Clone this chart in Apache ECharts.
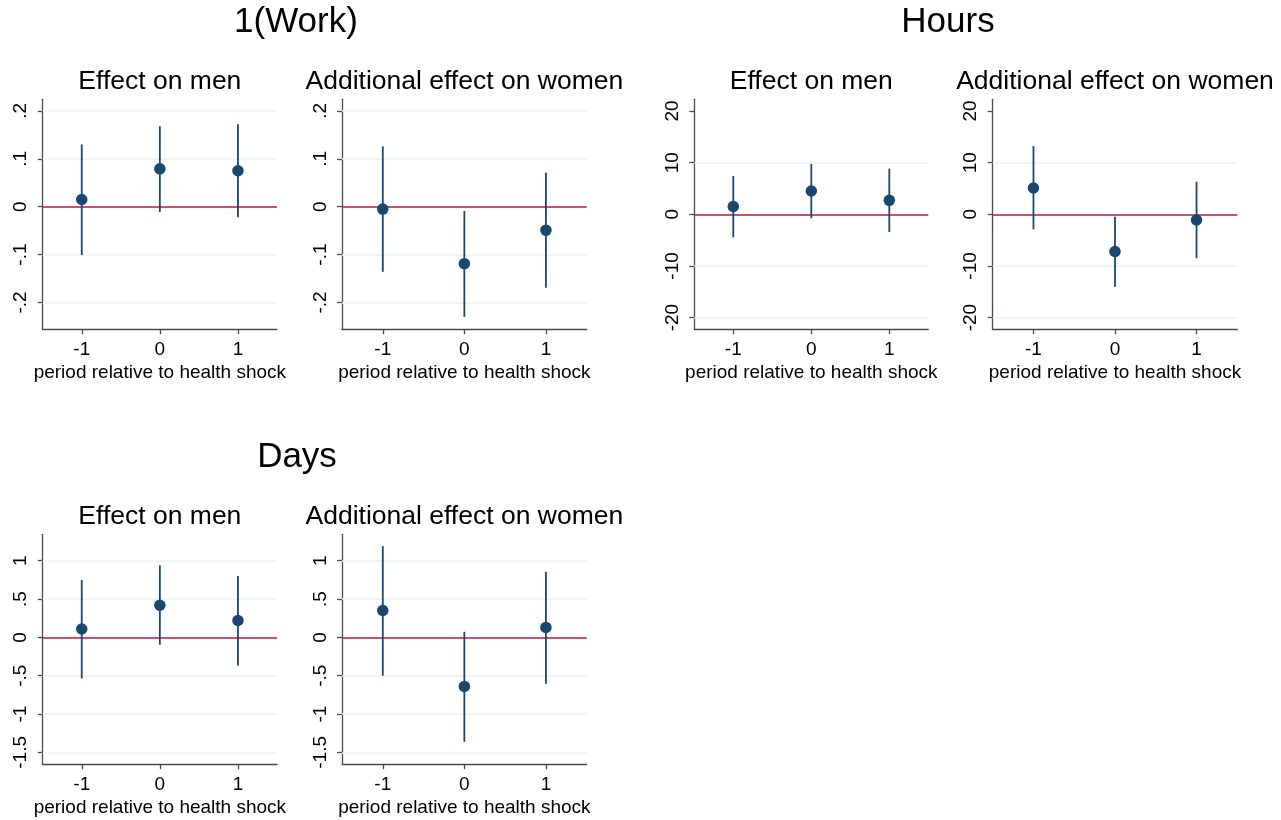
<!DOCTYPE html>
<html>
<head>
<meta charset="utf-8">
<script src="https://cdn.jsdelivr.net/npm/echarts@6/dist/echarts.min.js"></script>
<style>
html,body{margin:0;padding:0;background:#fff;}
#chart{width:1281px;height:820px;}
</style>
</head>
<body>
<div id="chart"></div>
<script>
// ---- data ----
const periods = [-1, 0, 1];
const xTickLabels = ['-1', '0', '1'];
const xAxisTitle = 'period relative to health shock';

const workMenCoef = [0.015, 0.079, 0.075];
const workMenLo   = [-0.101, -0.011, -0.022];
const workMenHi   = [0.130, 0.168, 0.172];
const workWomenCoef = [-0.005, -0.119, -0.049];
const workWomenLo   = [-0.136, -0.230, -0.169];
const workWomenHi   = [0.126, -0.009, 0.071];

const hoursMenCoef = [1.5, 4.5, 2.7];
const hoursMenLo   = [-4.45, -0.77, -3.42];
const hoursMenHi   = [7.41, 9.74, 8.83];
const hoursWomenCoef = [5.1, -7.2, -1.1];
const hoursWomenLo   = [-2.9, -14.0, -8.5];
const hoursWomenHi   = [13.2, -0.46, 6.3];

const daysMenCoef = [0.11, 0.42, 0.22];
const daysMenLo   = [-0.535, -0.096, -0.37];
const daysMenHi   = [0.747, 0.939, 0.80];
const daysWomenCoef = [0.35, -0.64, 0.13];
const daysWomenLo   = [-0.50, -1.362, -0.605];
const daysWomenHi   = [1.19, 0.073, 0.856];

const workTicks = [-0.2, -0.1, 0, 0.1, 0.2];
const workTickLabels = ['-.2', '-.1', '0', '.1', '.2'];
const workGrid = [-0.2, -0.1, 0.1, 0.2];
const hoursTicks = [-20, -10, 0, 10, 20];
const hoursTickLabels = ['-20', '-10', '0', '10', '20'];
const hoursGrid = [-20, -10, 10];
const daysTicks = [-1.5, -1, -0.5, 0, 0.5, 1];
const daysTickLabels = ['-1.5', '-1', '-.5', '0', '.5', '1'];
const daysGrid = [-1.5, -1, -0.5, 0.5, 1];

const workRange = [-0.256, 0.2242];
const hoursRange = [-22.26, 22.26];
const daysRange = [-1.656, 1.345];

const mainTitles = ['1(Work)', 'Hours', 'Days'];
const subTitles = ['Effect on men', 'Additional effect on women'];

// ---- layout ----
const FONT = '"Liberation Sans", Arial, Helvetica, sans-serif';
const NAVY = '#1a476f';
const RED = '#c8103e';
const GRIDC = '#eaf2f3';
const AXISC = '#4a4a4a';

const panels = [
  {coef: workMenCoef, lo: workMenLo, hi: workMenHi, ticks: workTicks, labels: workTickLabels, grid: workGrid, range: workRange, rect: [42.7, 277, 99.3, 329.3], sub: 0},
  {coef: workWomenCoef, lo: workWomenLo, hi: workWomenHi, ticks: workTicks, labels: workTickLabels, grid: workGrid, range: workRange, rect: [342, 586.7, 99.3, 329.3], sub: 1},
  {coef: hoursMenCoef, lo: hoursMenLo, hi: hoursMenHi, ticks: hoursTicks, labels: hoursTickLabels, grid: hoursGrid, range: hoursRange, rect: [694.3, 928.3, 99.3, 329.3], sub: 0},
  {coef: hoursWomenCoef, lo: hoursWomenLo, hi: hoursWomenHi, ticks: hoursTicks, labels: hoursTickLabels, grid: hoursGrid, range: hoursRange, rect: [992.7, 1237.3, 99.3, 329.3], sub: 1},
  {coef: daysMenCoef, lo: daysMenLo, hi: daysMenHi, ticks: daysTicks, labels: daysTickLabels, grid: daysGrid, range: daysRange, rect: [42.7, 277, 534.3, 764.3], sub: 0},
  {coef: daysWomenCoef, lo: daysWomenLo, hi: daysWomenHi, ticks: daysTicks, labels: daysTickLabels, grid: daysGrid, range: daysRange, rect: [342, 586.7, 534.3, 764.3], sub: 1}
];

const W = 1281, H = 820;
const grids = [], xAxes = [], yAxes = [], series = [], graphics = [];

panels.forEach((p, i) => {
  const [l, r, t, b] = p.rect;
  grids.push({left: l, top: t, width: r - l, height: b - t, containLabel: false});
  xAxes.push({
    type: 'value', gridIndex: i, min: -1.5, max: 1.5,
    axisLine: {show: true, onZero: false, lineStyle: {color: AXISC, width: 1.3}},
    axisTick: {show: true, length: 5, customValues: periods, lineStyle: {color: AXISC, width: 1.3}},
    axisLabel: {show: true, customValues: periods, margin: 11, color: '#000', fontFamily: FONT, fontSize: 19,
      formatter: v => xTickLabels[periods.indexOf(v)]},
    splitLine: {show: false},
    name: xAxisTitle, nameLocation: 'middle', nameGap: 34,
    nameTextStyle: {color: '#000', fontFamily: FONT, fontSize: 19}
  });
  yAxes.push({
    type: 'value', gridIndex: i, min: p.range[0], max: p.range[1],
    axisLine: {show: true, onZero: false, lineStyle: {color: AXISC, width: 1.3}},
    axisTick: {show: true, length: 5, customValues: p.ticks, lineStyle: {color: AXISC, width: 1.3}},
    axisLabel: {show: true, customValues: p.ticks, rotate: 90, margin: 12, color: '#000', fontFamily: FONT, fontSize: 19,
      formatter: v => { const k = p.ticks.findIndex(tv => Math.abs(tv - v) < 1e-9); return k >= 0 ? p.labels[k] : ''; }},
    splitLine: {show: false}
  });
  // gridlines
  series.push({
    type: 'line', xAxisIndex: i, yAxisIndex: i, data: [], silent: true, z: 1,
    markLine: {
      z: 1, silent: true, symbol: ['none', 'none'], label: {show: false}, animation: false,
      lineStyle: {color: GRIDC, width: 1.5, type: 'solid'},
      data: p.grid.map(v => ({yAxis: v}))
    }
  });
  // zero reference line
  series.push({
    type: 'line', xAxisIndex: i, yAxisIndex: i, data: [], silent: true, z: 2,
    markLine: {
      z: 2, silent: true, symbol: ['none', 'none'], label: {show: false}, animation: false,
      lineStyle: {color: RED, width: 1.6, type: 'solid'},
      data: [{yAxis: 0}]
    }
  });
  // confidence intervals
  series.push({
    type: 'custom', xAxisIndex: i, yAxisIndex: i, z: 3, silent: true,
    data: periods.map((x, k) => [x, p.lo[k], p.hi[k]]),
    encode: {x: 0, y: [1, 2]},
    renderItem: (params, api) => {
      const a = api.coord([api.value(0), api.value(1)]);
      const c = api.coord([api.value(0), api.value(2)]);
      return {type: 'line', shape: {x1: a[0], y1: a[1], x2: c[0], y2: c[1]},
        style: {stroke: NAVY, lineWidth: 1.8}};
    }
  });
  // point estimates
  series.push({
    type: 'scatter', xAxisIndex: i, yAxisIndex: i, z: 4, silent: true,
    symbol: 'circle', symbolSize: 11.5,
    itemStyle: {color: NAVY, opacity: 1},
    data: periods.map((x, k) => [x, p.coef[k]])
  });
  graphics.push({
    type: 'text', x: (l + r) / 2, y: t - 18,
    style: {text: subTitles[p.sub], x: 0, y: 0, textAlign: 'center', textVerticalAlign: 'middle',
      font: '26.5px ' + FONT, fill: '#000'}
  });
});

const titlePos = [[296, 22], [948, 22], [297, 457]];
mainTitles.forEach((s, k) => {
  graphics.push({
    type: 'text', x: titlePos[k][0], y: titlePos[k][1],
    style: {text: s, x: 0, y: 0, textAlign: 'center', textVerticalAlign: 'middle',
      font: '35px ' + FONT, fill: '#000'}
  });
});

const chart = echarts.init(document.getElementById('chart'), null, {renderer: 'canvas', width: W, height: H});
chart.setOption({
  animation: false,
  backgroundColor: '#fff',
  grid: grids,
  xAxis: xAxes,
  yAxis: yAxes,
  series: series,
  graphic: graphics
});
</script>
</body>
</html>
